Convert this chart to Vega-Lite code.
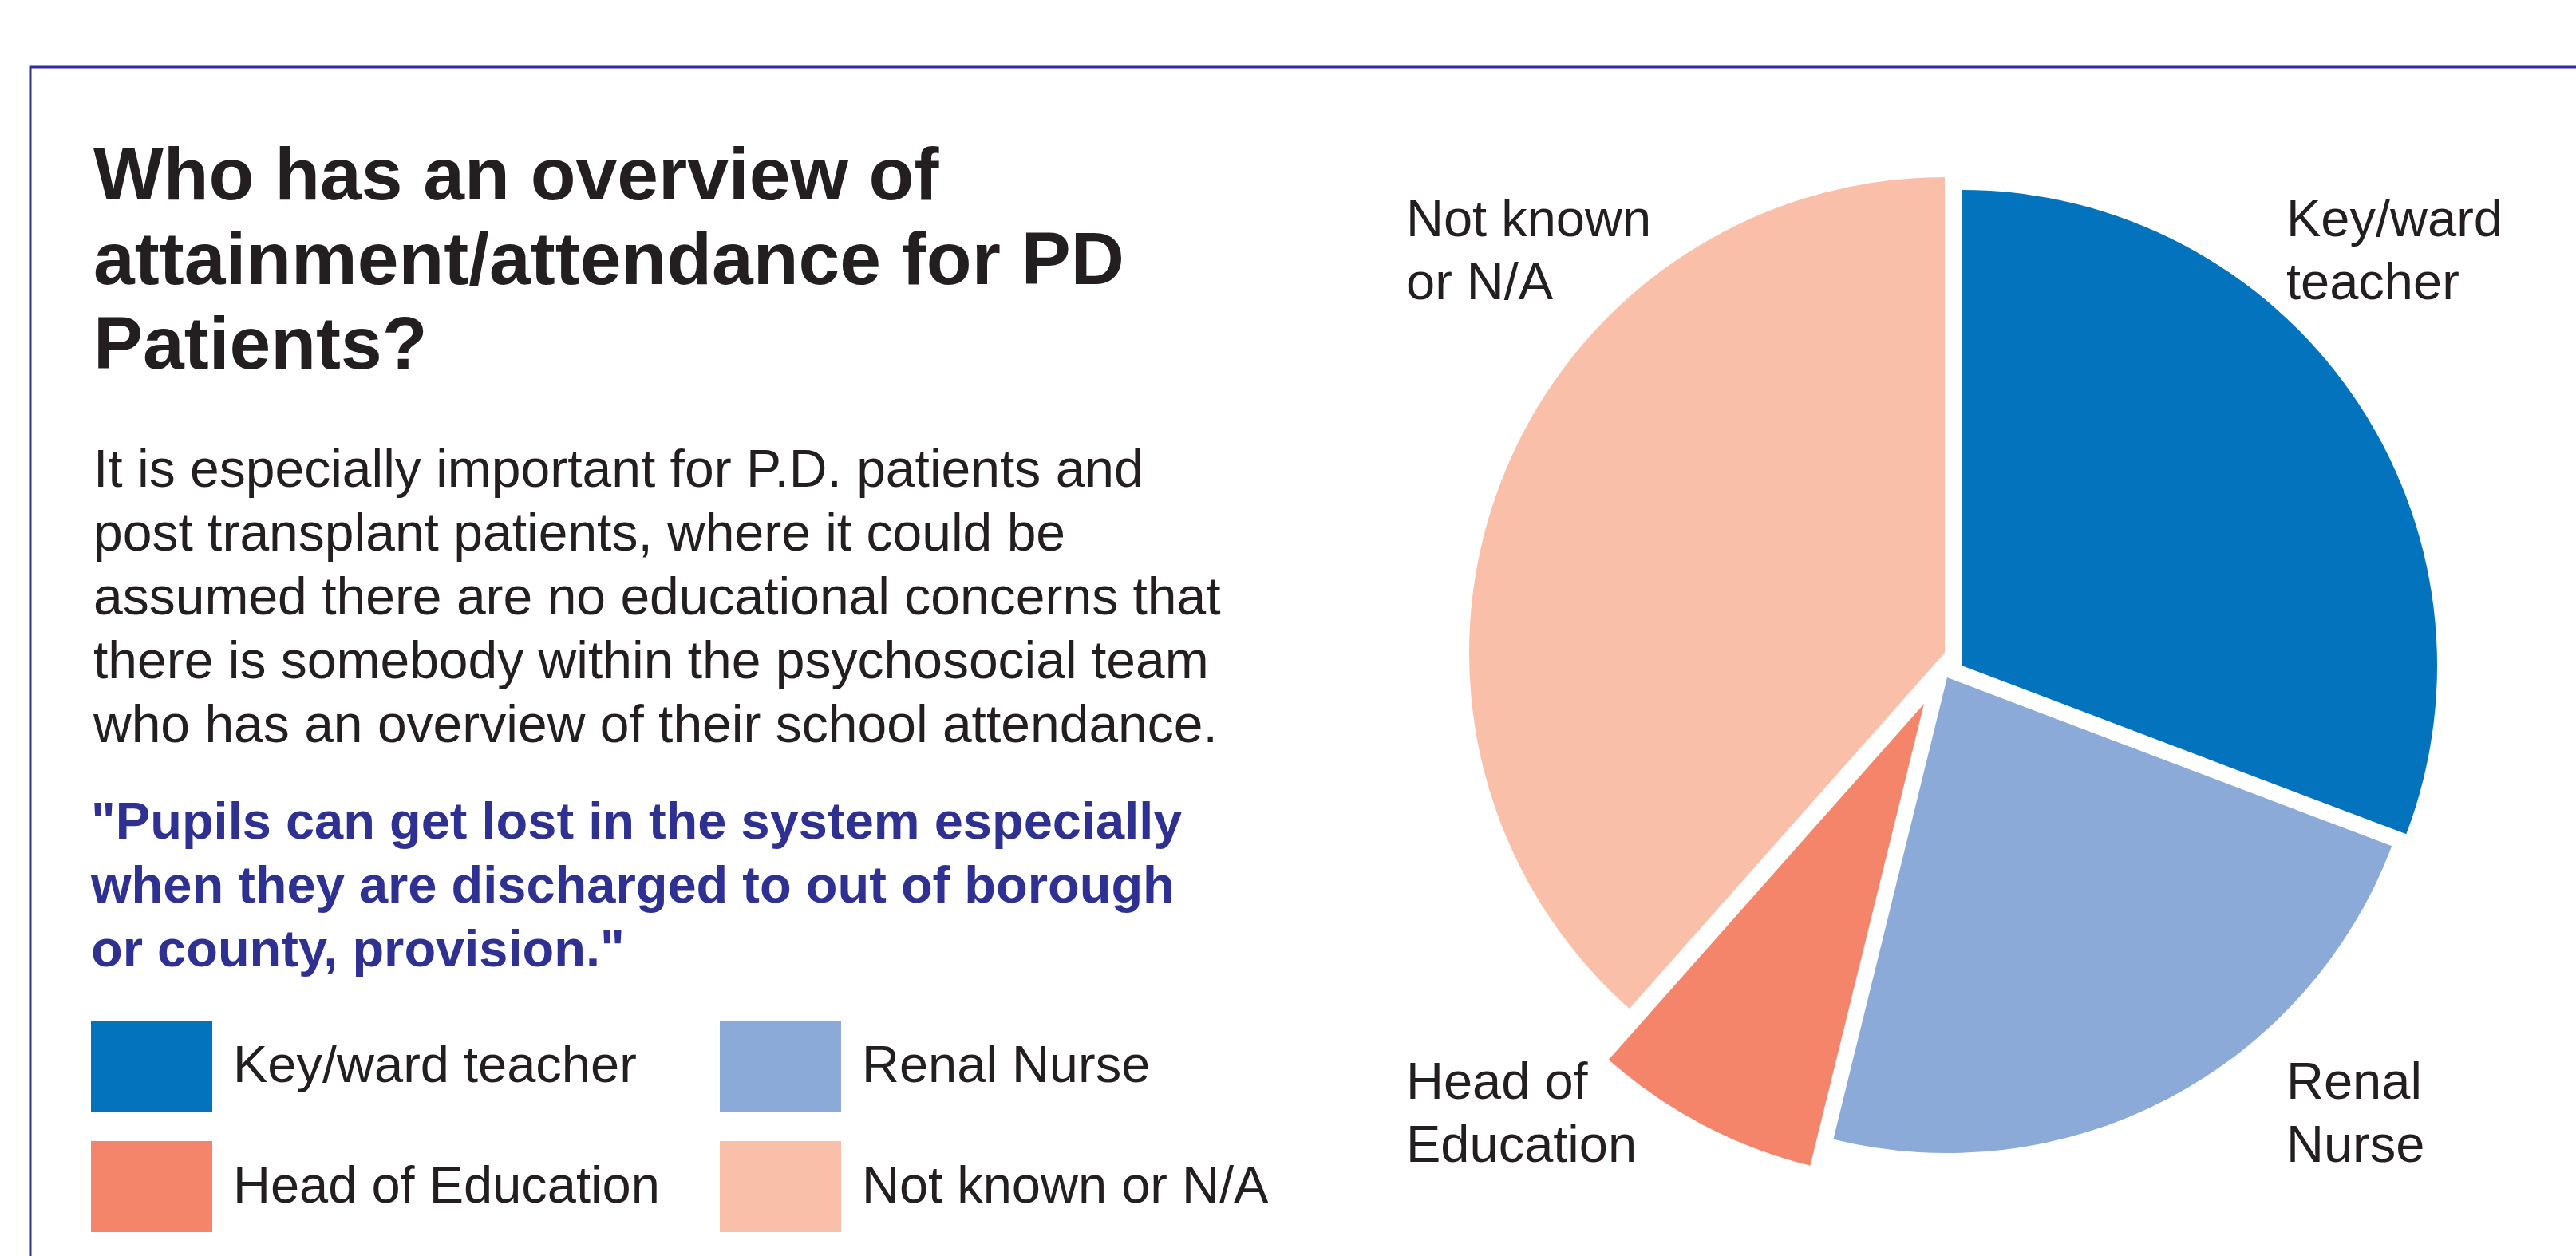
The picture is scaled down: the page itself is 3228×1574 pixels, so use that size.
{
  "$schema": "https://vega.github.io/schema/vega-lite/v6.json",
  "width": 3194,
  "height": 1494,
  "autosize": {"type": "none"},
  "padding": {"left": 38, "top": 84, "right": -4, "bottom": -4},
  "background": "white",
  "view": {"stroke": "#2e3192", "strokeWidth": 3},
  "config": {
    "view": {"stroke": "#2e3192", "strokeWidth": 3},
    "font": "Liberation Sans"
  },
  "data": {
    "values": [
      {"category": "Key/ward teacher", "count": 4, "label": "Key/ward\nteacher"},
      {"category": "Renal Nurse", "count": 3, "label": "Renal\nNurse"},
      {"category": "Head of Education", "count": 1, "label": "Head of\nEducation"},
      {"category": "Not known or N/A", "count": 5, "label": "Not known\nor N/A"}
    ]
  },
  "transform": [
    {"stack": "count", "groupby": [], "as": ["t0", "t1"]}
  ],
  "title": {
    "text": ["Who has an overview of", "attainment/attendance for PD", "Patients?"],
    "subtitle": [
      "It is especially important for P.D. patients and",
      "post transplant patients, where it could be",
      "assumed there are no educational concerns that",
      "there is somebody within the psychosocial team",
      "who has an overview of their school attendance."
    ],
    "anchor": "start",
    "frame": "group",
    "orient": "top",
    "offset": 0,
    "dx": 79,
    "dy": 860,
    "font": "Liberation Sans",
    "fontSize": 93,
    "fontWeight": "bold",
    "color": "#231f20",
    "lineHeight": 106,
    "limit": 2000,
    "subtitleFont": "Liberation Sans",
    "subtitleFontSize": 66,
    "subtitleColor": "#231f20",
    "subtitleLineHeight": 80,
    "subtitlePadding": 76
  },
  "encoding": {
    "color": {
      "field": "category",
      "type": "nominal",
      "scale": {
        "domain": ["Key/ward teacher", "Renal Nurse", "Head of Education", "Not known or N/A"],
        "range": ["#0273bc", "#8baad8", "#f4856a", "#f9bfa8"]
      },
      "legend": {
        "orient": "none",
        "legendX": 76,
        "legendY": 916,
        "columns": 2,
        "values": ["Key/ward teacher", "Head of Education", "Renal Nurse", "Not known or N/A"],
        "title": ["\"Pupils can get lost in the system especially", "when they are discharged to out of borough", "or county, provision.\""],
        "titleFont": "Liberation Sans",
        "titleFontSize": 65,
        "titleFontWeight": "bold",
        "titleColor": "#2e3192",
        "titleLineHeight": 80,
        "titlePadding": 35,
        "titleLimit": 2000,
        "symbolType": "M-1,-0.75H1V0.75H-1Z",
        "symbolSize": 23104,
        "symbolStrokeWidth": 0,
        "symbolOpacity": 1,
        "labelFont": "Liberation Sans",
        "labelFontSize": 65,
        "labelColor": "#231f20",
        "labelOffset": 26,
        "labelLimit": 1000,
        "columnPadding": 75,
        "rowPadding": 18,
        "padding": 0,
        "gridAlign": "all"
      }
    }
  },
  "layer": [
    {
      "transform": [{"filter": "datum.category === 'Key/ward teacher'"}],
      "mark": {"type": "arc", "x": 2420, "y": 750, "radius": 596},
      "encoding": {
        "theta": {"field": "t0", "type": "quantitative", "scale": {"domain": [0, 13]}},
        "theta2": {"field": "t1"}
      }
    },
    {
      "transform": [{"filter": "datum.category === 'Renal Nurse'"}],
      "mark": {"type": "arc", "x": 2402, "y": 765, "radius": 596},
      "encoding": {
        "theta": {"field": "t0", "type": "quantitative", "scale": {"domain": [0, 13]}},
        "theta2": {"field": "t1"}
      }
    },
    {
      "transform": [{"filter": "datum.category === 'Head of Education'"}],
      "mark": {"type": "arc", "x": 2373, "y": 798, "radius": 596},
      "encoding": {
        "theta": {"field": "t0", "type": "quantitative", "scale": {"domain": [0, 13]}},
        "theta2": {"field": "t1"}
      }
    },
    {
      "transform": [{"filter": "datum.category === 'Not known or N/A'"}],
      "mark": {"type": "arc", "x": 2399, "y": 734, "radius": 596},
      "encoding": {
        "theta": {"field": "t0", "type": "quantitative", "scale": {"domain": [0, 13]}},
        "theta2": {"field": "t1"}
      }
    },
    {
      "transform": [{"filter": "datum.category === 'Not known or N/A'"}],
      "mark": {"type": "text", "x": 1724, "y": 212, "align": "left", "baseline": "alphabetic", "lineBreak": "\n", "lineHeight": 79, "fontSize": 65, "font": "Liberation Sans"},
      "encoding": {"text": {"field": "label"}, "color": {"value": "#231f20"}}
    },
    {
      "transform": [{"filter": "datum.category === 'Key/ward teacher'"}],
      "mark": {"type": "text", "x": 2827, "y": 212, "align": "left", "baseline": "alphabetic", "lineBreak": "\n", "lineHeight": 79, "fontSize": 65, "font": "Liberation Sans"},
      "encoding": {"text": {"field": "label"}, "color": {"value": "#231f20"}}
    },
    {
      "transform": [{"filter": "datum.category === 'Head of Education'"}],
      "mark": {"type": "text", "x": 1724, "y": 1293, "align": "left", "baseline": "alphabetic", "lineBreak": "\n", "lineHeight": 79, "fontSize": 65, "font": "Liberation Sans"},
      "encoding": {"text": {"field": "label"}, "color": {"value": "#231f20"}}
    },
    {
      "transform": [{"filter": "datum.category === 'Renal Nurse'"}],
      "mark": {"type": "text", "x": 2827, "y": 1293, "align": "left", "baseline": "alphabetic", "lineBreak": "\n", "lineHeight": 79, "fontSize": 65, "font": "Liberation Sans"},
      "encoding": {"text": {"field": "label"}, "color": {"value": "#231f20"}}
    }
  ]
}
